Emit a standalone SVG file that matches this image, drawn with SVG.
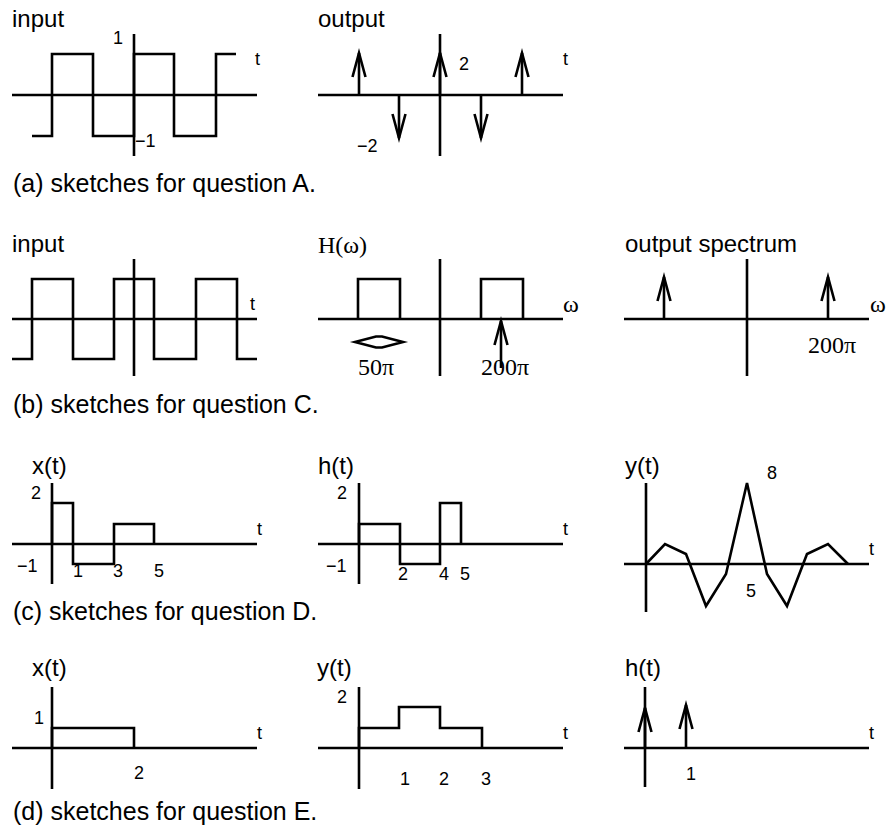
<svg xmlns="http://www.w3.org/2000/svg" width="889" height="830" viewBox="0 0 889 830">
<style>
.ln{fill:none;stroke:#000;stroke-width:2.6;stroke-linejoin:miter;stroke-linecap:butt}
.lbl{font-family:"Liberation Sans",Arial,sans-serif;font-size:24px;fill:#000}
.cap{font-family:"Liberation Sans",Arial,sans-serif;font-size:25px;fill:#000}
.num{font-family:"Liberation Sans",Arial,sans-serif;font-size:18px;fill:#000}
.ser{font-family:"Liberation Serif","Times New Roman",serif;font-size:24px;fill:#000}
.arr{marker-end:url(#ah)}
</style>
<defs>
<marker id="ah" markerUnits="userSpaceOnUse" markerWidth="30" markerHeight="20" refX="0" refY="0" orient="auto" overflow="visible">
<path d="M-24,-6.5 L0,0 L-24,6.5" fill="none" stroke="#000" stroke-width="2.6"/>
</marker>
</defs>
<rect width="889" height="830" fill="#fff"/>

<g id="a-input">
<text class="lbl" x="12" y="27">input</text>
<path class="ln" d="M12,95 H257 M134,34 V156"/>
<path class="ln" d="M32,136 H52 V54 H93 V136 H134 V54 H174 V136 H216 V54 H236"/>
<text class="num" x="113" y="44">1</text>
<text class="num" x="135" y="147">−1</text>
<text class="num" x="255" y="65">t</text>
</g>

<g id="a-output">
<text class="lbl" x="318" y="27">output</text>
<path class="ln" d="M318,95 H563 M440,34 V156"/>
<g id="a-impulses">
<path class="ln arr" d="M359,95 V53"/>
<path class="ln arr" d="M440,95 V53"/>
<path class="ln arr" d="M522,95 V53"/>
<path class="ln arr" d="M399,95 V138"/>
<path class="ln arr" d="M481,95 V138"/>
</g>
<text class="num" x="459" y="70">2</text>
<text class="num" x="357" y="152">−2</text>
<text class="num" x="563" y="65">t</text>
</g>

<text id="cap-a" class="cap" x="13" y="192">(a) sketches for question A.</text>

<g id="b-input">
<text class="lbl" x="12" y="252">input</text>
<path class="ln" d="M12,319 H257 M134,259 V376"/>
<path class="ln" d="M12,359 H32 V279 H73 V359 H114 V279 H154 V359 H196 V279 H237 V359 H257"/>
<text class="num" x="250" y="310">t</text>
</g>

<g id="b-H">
<text class="ser" x="318" y="253">H(ω)</text>
<path class="ln" d="M318,319 H563 M440,259 V376"/>
<path class="ln" d="M358,319 V279 H400 V319 M481,319 V279 H523 V319"/>
<path class="ln arr" d="M501,368 V321"/>
<polygon class="ln" fill="#fff" points="355,342 376,336.5 382,336.5 403,342 382,347.5 376,347.5" style="fill:#fff"/>
<text class="ser" x="563" y="312">ω</text>
<text class="ser" x="358" y="375">50π</text>
<text class="ser" x="481" y="375">200π</text>
</g>

<g id="b-output">
<text class="lbl" x="625" y="252">output spectrum</text>
<path class="ln" d="M624,319 H869 M747,259 V376"/>
<path class="ln arr" d="M664,319 V277"/>
<path class="ln arr" d="M828,319 V277"/>
<text class="ser" x="870" y="312">ω</text>
<text class="ser" x="808" y="353">200π</text>
</g>

<text id="cap-b" class="cap" x="13" y="413">(b) sketches for question C.</text>

<g id="c-x">
<text class="lbl" x="32" y="474">x(t)</text>
<path class="ln" d="M12,544 H257 M52,483 V584"/>
<path class="ln" d="M52,544 V503 H73 V564 H114 V524 H154 V544"/>
<text class="num" x="31" y="499">2</text>
<text class="num" x="17" y="572">−1</text>
<text class="num" x="73" y="577">1</text>
<text class="num" x="113" y="577">3</text>
<text class="num" x="154" y="577">5</text>
<text class="num" x="257" y="535">t</text>
</g>

<g id="c-h">
<text class="lbl" x="318" y="474">h(t)</text>
<path class="ln" d="M318,544 H563 M359,483 V584"/>
<path class="ln" d="M359,544 V524 H400 V564 H440 V503 H461 V544"/>
<text class="num" x="337" y="499">2</text>
<text class="num" x="326" y="572">−1</text>
<text class="num" x="398" y="580">2</text>
<text class="num" x="439" y="580">4</text>
<text class="num" x="460" y="580">5</text>
<text class="num" x="563" y="535">t</text>
</g>

<g id="c-y">
<text class="lbl" x="625" y="474">y(t)</text>
<path class="ln" d="M624,564 H869 M646,483 V612"/>
<polyline class="ln" points="646,564 665,544 686,554 706,606 726,574 747,483 767,574 787,606 807,554 828,544 848,564"/>
<text class="num" x="767" y="479">8</text>
<text class="num" x="746" y="597">5</text>
<text class="num" x="869" y="555">t</text>
</g>

<text id="cap-c" class="cap" x="13" y="620">(c) sketches for question D.</text>

<g id="d-x">
<text class="lbl" x="32" y="676">x(t)</text>
<path class="ln" d="M12,748 H257 M52,687 V789"/>
<path class="ln" d="M52,748 V728 H134 V748"/>
<text class="num" x="34" y="724">1</text>
<text class="num" x="134" y="779">2</text>
<text class="num" x="257" y="739">t</text>
</g>

<g id="d-y">
<text class="lbl" x="317" y="676">y(t)</text>
<path class="ln" d="M318,748 H563 M359,687 V789"/>
<path class="ln" d="M359,748 V728 H399 V707 H440 V728 H482 V748"/>
<text class="num" x="337" y="703">2</text>
<text class="num" x="400" y="785">1</text>
<text class="num" x="439" y="785">2</text>
<text class="num" x="481" y="785">3</text>
<text class="num" x="563" y="739">t</text>
</g>

<g id="d-h">
<text class="lbl" x="625" y="676">h(t)</text>
<path class="ln" d="M624,748 H869 M645,687 V787"/>
<path class="ln arr" d="M645,748 V708"/>
<path class="ln arr" d="M686,748 V705"/>
<text class="num" x="686" y="780">1</text>
<text class="num" x="869" y="739">t</text>
</g>

<text id="cap-d" class="cap" x="13" y="820">(d) sketches for question E.</text>
</svg>
